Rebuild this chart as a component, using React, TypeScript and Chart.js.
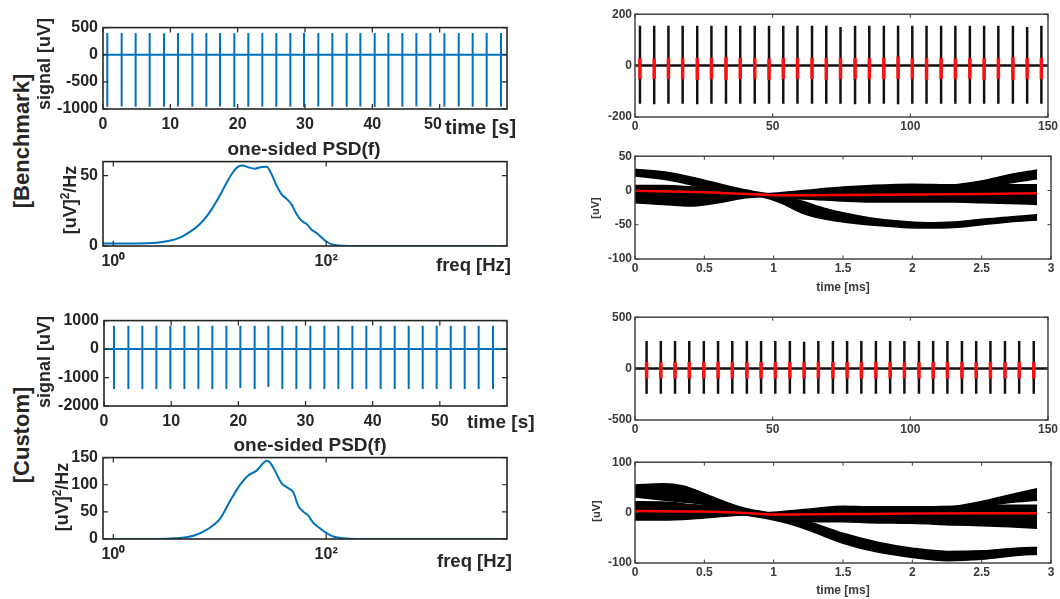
import React, { useEffect, useRef } from 'react';
import { Chart, registerables } from 'chart.js';

Chart.register(...registerables);

const FONT = '"Liberation Sans", Arial, Helvetica, sans-serif';
const MATLAB_BLUE = '#0072BD';
const AXIS_DARK = '#262626';
const AXIS_GRAY = '#3a3a3a';

// ---------------- Left column: raw signals ----------------
const signalXTicks = [0, 10, 20, 30, 40, 50];
// the "50" label of the benchmark trace sits slightly left of its tick (next to the x label)
const benchSignalXLabels: Record<number, string> = { 50: '50   ' };
const benchSignalYTicks = [-1000, -500, 0, 500];
const benchSpikeTimes = [0.64, 2.77, 4.85, 6.93, 9.06, 11.14, 13.27, 15.35, 17.38, 19.5, 21.58, 23.66, 25.74, 27.82, 29.85, 31.98, 34.06, 36.19, 38.22, 40.35, 42.38, 44.46, 46.54, 48.62, 50.7, 52.83, 54.9, 56.98, 59.11];
const benchSpikePeaks = [400, 400, 400, 400, 398, 400, 400, 400, 400, 398, 400, 400, 400, 400, 400, 400, 400, 400, 400, 400, 400, 400, 400, 400, 398, 400, 400, 400, 400];
const benchSpikeTroughs = [-960, -955, -960, -958, -960, -955, -960, -958, -955, -962, -958, -955, -960, -958, -962, -955, -958, -960, -955, -962, -958, -960, -955, -958, -960, -955, -958, -960, -955];

const customSignalYTicks = [-2000, -1000, 0, 1000];
const customSpikeTimes = [1.49, 3.63, 5.71, 7.8, 9.88, 11.97, 14.05, 16.13, 18.22, 20.3, 22.43, 24.47, 26.55, 28.64, 30.72, 32.81, 34.89, 36.98, 39.06, 41.19, 43.28, 45.36, 47.45, 49.53, 51.62, 53.7, 55.78, 57.92];
const customSpikePeaks = [820, 820, 820, 820, 820, 820, 820, 820, 820, 820, 820, 820, 820, 820, 820, 820, 820, 820, 820, 820, 820, 820, 820, 820, 820, 820, 820, 820];
const customSpikeTroughs = [-1400, -1400, -1400, -1400, -1400, -1400, -1400, -1400, -1400, -1370, -1400, -1330, -1400, -1400, -1400, -1400, -1400, -1400, -1400, -1400, -1400, -1400, -1400, -1400, -1400, -1400, -1400, -1400];

// ---------------- Left column: PSDs ----------------
const psdTickDecades = [0.1, 1, 10, 100, 1000];
const psdTickMultipliers = [1, 2, 3, 4, 5, 6, 7, 8, 9];
const psdXLabels: Record<number, string> = { 1: '10\u2070', 100: '10\u00B2' };
const benchPsdYTicks = [0, 50];
const customPsdYTicks = [0, 50, 100, 150];

const benchPsdFreq = [0.8, 1.0, 1.5, 2.06, 3.17, 4.23, 5.25, 6.52, 7.53, 8.7, 10.05, 11.6, 13.4, 14.9, 16.3, 18.5, 21.4, 24.8, 27.6, 30.7, 34.2, 38.2, 42.5, 47.4, 52.8, 58.8, 65.5, 73, 81.3, 90.6, 101, 116.7, 145, 200, 500, 1000, 5000];
const benchPsdValue = [1.8, 1.8, 1.8, 1.9, 3.4, 6, 10, 15.6, 21, 28, 36, 45, 52.8, 56.4, 57.3, 56, 55, 56.2, 56.4, 51, 43, 36.7, 33.5, 29.4, 22.5, 17.9, 15.6, 11.5, 9.2, 6, 3, 0.9, 0.2, 0.05, 0.02, 0.02, 0.02];

const customPsdFreq = [0.8, 2, 3.17, 4.23, 5.65, 7.01, 8.7, 10.05, 12.5, 15.5, 18.5, 22.2, 25.7, 27.6, 29.6, 33, 38.2, 44, 49.1, 54.7, 60.9, 67.9, 75.7, 87.5, 101, 116.7, 145, 193, 500, 5000];
const customPsdValue = [0, 0, 0.6, 1.8, 6, 13.6, 25.5, 37, 70, 99.6, 117, 126, 140, 144, 141, 126, 102.6, 93.7, 86, 61, 50.4, 43, 29.6, 19.6, 10.7, 4.7, 1.2, 0, 0, 0];

// ---------------- Right column: spike trains ----------------
const trainXTicks = [0, 50, 100, 150];
const benchTrainYTicks = [-200, 0, 200];
const benchTrainX = [1.8, 6.97, 12.14, 17.31, 22.6, 27.76, 33.05, 38.22, 43.5, 48.68, 53.85, 59.01, 64.3, 69.47, 74.64, 79.93, 85.1, 90.38, 95.55, 100.72, 105.89, 111.18, 116.35, 121.63, 126.8, 131.97, 137.26, 142.43, 147.6];
const benchTrainTop = [155, 155, 155, 155, 155, 155, 155, 155, 155, 155, 155, 155, 155, 155, 150, 155, 155, 155, 155, 155, 155, 155, 155, 155, 155, 155, 155, 150, 155];
const benchTrainBottom = [-148, -150, -148, -148, -150, -148, -148, -148, -148, -148, -148, -148, -148, -148, -148, -150, -148, -148, -150, -148, -148, -148, -148, -148, -148, -148, -148, -148, -148];
const benchRedTop = [30, 28, 30, 30, 30, 30, 33, 30, 30, 28, 30, 30, 30, 30, 30, 30, 30, 30, 35, 30, 30, 30, 28, 30, 30, 30, 33, 30, 30];
const benchRedBottom = [-52, -52, -52, -52, -55, -52, -55, -52, -52, -55, -52, -52, -52, -55, -52, -52, -52, -52, -52, -52, -55, -52, -52, -52, -55, -52, -55, -52, -52];

const customTrainYTicks = [-500, 0, 500];
const customTrainX = [4.21, 9.38, 14.54, 19.71, 25, 30.17, 35.34, 40.63, 45.79, 50.96, 56.25, 61.42, 66.59, 71.88, 77.04, 82.21, 87.5, 92.67, 97.84, 103.13, 108.29, 113.46, 118.75, 123.92, 129.09, 134.38, 139.54, 144.83];
const customTrainTop = [268, 268, 268, 268, 268, 268, 268, 268, 268, 268, 268, 262, 268, 268, 268, 268, 268, 268, 268, 268, 268, 268, 268, 268, 268, 268, 268, 268];
const customTrainBottom = [-245, -245, -245, -245, -245, -245, -245, -245, -245, -245, -245, -245, -245, -245, -245, -245, -245, -245, -245, -245, -245, -245, -245, -245, -245, -245, -245, -245];
const customRedTop = [64, 64, 64, 64, 64, 64, 64, 64, 64, 64, 64, 64, 64, 64, 64, 64, 64, 64, 64, 64, 64, 64, 64, 64, 64, 64, 64, 64];
const customRedBottom = [-96, -96, -96, -96, -96, -96, -96, -96, -96, -96, -96, -96, -96, -96, -96, -96, -96, -96, -96, -96, -96, -96, -96, -96, -96, -96, -96, -96];

// ---------------- Right column: waveform overlays ----------------
const waveXTicks = [0, 0.5, 1, 1.5, 2, 2.5, 3];
const benchWaveYTicks = [-100, -50, 0, 50];
const customWaveYTicks = [-100, 0, 100];

const benchBandAT = [0, 0.25, 0.5, 0.75, 0.9, 1.05, 1.2, 1.35, 1.5, 1.7, 1.9, 2.1, 2.3, 2.5, 2.7, 2.9];
const benchBandAUpper = [31, 26, 15, 3, -3, -8.3, -15.5, -25, -32.5, -40, -44.7, -47, -46, -42, -38.8, -35.4];
const benchBandALower = [21, 15, 4, -5, -8.5, -18, -32.5, -41, -46, -50.5, -53.4, -54.9, -54, -50, -46, -43];
const benchBandBT = [0, 0.2, 0.4, 0.6, 0.8, 0.95, 1.1, 1.3, 1.5, 1.7, 2.0, 2.3, 2.5, 2.7, 2.9];
const benchBandBUpper = [7.3, 7.3, 5.3, 1.5, -2, -4.4, -2.4, 1.5, 4.9, 7.3, 9.2, 8.3, 8.3, 8.3, 8.3];
const benchBandBLower = [-18, -20.4, -22.8, -18, -10.7, -9.2, -12, -13, -15.5, -17, -17, -17, -18, -19, -20.4];
const benchBandCT = [2.3, 2.5, 2.7, 2.9];
const benchBandCUpper = [8, 14, 23, 30];
const benchBandCLower = [-2, 4, 11, 17];
const benchMeanT = [0, 0.5, 0.9, 1.0, 1.3, 1.5, 2.0, 2.5, 2.9];
const benchMeanV = [-0.5, -2.5, -6, -7, -7, -6.5, -6, -5, -4];

const customBandAT = [0, 0.2, 0.35, 0.5, 0.65, 0.8, 0.95, 1.1, 1.25, 1.5, 1.75, 2.0, 2.25, 2.5, 2.75, 2.9];
const customBandAUpper = [55, 57.4, 52.8, 37.7, 21.3, 8.2, 0.3, -8.2, -18, -41, -58.7, -70.5, -77, -75.7, -70.5, -69];
const customBandALower = [31, 25, 21, 16, 4.9, -4.9, -11.5, -21.3, -34.4, -60.7, -78.4, -88.9, -95.4, -92.8, -85, -82.6];
const customBandBT = [0, 0.2, 0.4, 0.6, 0.8, 0.95, 1.1, 1.3, 1.5, 1.7, 2.0, 2.3, 2.5, 2.7, 2.9];
const customBandBUpper = [21.3, 21, 16, 11.5, 6.2, 0.3, 3, 8.2, 12.8, 11.5, 11.5, 12.8, 14.8, 14.8, 14.8];
const customBandBLower = [-14.8, -14.8, -12.8, -8.2, -4.9, -10, -16.7, -18, -18, -20, -21.3, -24.6, -26, -28, -31];
const customBandCT = [2.3, 2.5, 2.7, 2.9];
const customBandCUpper = [12, 22, 35, 47.5];
const customBandCLower = [4, 12, 20, 24.6];
const customMeanT = [0, 0.5, 0.8, 1.0, 1.5, 2.0, 2.5, 2.9];
const customMeanV = [3, 2, -1, -4, -3, -2, -1.5, -1.5];

// ---------------- helpers ----------------
type Pt = { x: number; y: number | null };

function spikeTrace(times: number[], tops: number[], bottoms: number[], xmin: number, xmax: number): Pt[] {
  const pts: Pt[] = [{ x: xmin, y: 0 }];
  times.forEach((t, i) => {
    pts.push({ x: t, y: 0 }, { x: t, y: tops[i] }, { x: t, y: bottoms[i] }, { x: t, y: 0 });
  });
  pts.push({ x: xmax, y: 0 });
  return pts;
}

function segmentTrace(times: number[], tops: number[], bottoms: number[]): Pt[] {
  const pts: Pt[] = [];
  times.forEach((t, i) => {
    pts.push({ x: t, y: tops[i] }, { x: t, y: bottoms[i] }, { x: t, y: null });
  });
  return pts;
}

function zipXY(xs: number[], ys: number[]): Pt[] {
  return xs.map((x, i) => ({ x, y: ys[i] }));
}

const psdTickValues = psdTickDecades
  .flatMap((d) => psdTickMultipliers.map((m) => +(d * m).toPrecision(6)))
  .filter((v) => v >= 0.8 && v <= 5000);

const boxPlugin = {
  id: 'box',
  afterDraw(chart: any, _args: any, opts: any) {
    const { ctx, chartArea: a } = chart;
    const xs = chart.scales.x;
    const ys = chart.scales.y;
    ctx.save();
    ctx.strokeStyle = opts.color;
    ctx.lineWidth = opts.tickWidth;
    ctx.beginPath();
    for (const tk of xs.ticks) {
      const px = xs.getPixelForValue(tk.value);
      let len = opts.tickLen;
      if (opts.logX) {
        const lg = Math.log10(tk.value);
        if (Math.abs(lg - Math.round(lg)) > 1e-6) len = opts.minorLen;
      }
      ctx.moveTo(px, a.bottom);
      ctx.lineTo(px, a.bottom - len);
      ctx.moveTo(px, a.top);
      ctx.lineTo(px, a.top + len);
    }
    for (const tk of ys.ticks) {
      const py = ys.getPixelForValue(tk.value);
      ctx.moveTo(a.left, py);
      ctx.lineTo(a.left + opts.tickLen, py);
      ctx.moveTo(a.right, py);
      ctx.lineTo(a.right - opts.tickLen, py);
    }
    ctx.stroke();
    ctx.lineWidth = opts.lineWidth;
    ctx.strokeRect(a.left, a.top, a.right - a.left, a.bottom - a.top);
    ctx.restore();
  },
};

type PanelProps = {
  rect: [number, number, number, number];
  yW: number;
  xH: number;
  padT: number;
  padR: number;
  datasets: any[];
  xScale: any;
  yScale: any;
  box: any;
};

function ChartPanel({ rect, yW, xH, padT, padR, datasets, xScale, yScale, box }: PanelProps) {
  const ref = useRef<HTMLCanvasElement>(null);
  const [l, t, r, b] = rect;
  const width = r - l + yW + padR;
  const height = b - t + padT + xH;
  useEffect(() => {
    const chart = new Chart(ref.current as HTMLCanvasElement, {
      type: 'line',
      data: { datasets },
      options: {
        animation: false,
        responsive: false,
        devicePixelRatio: 1,
        events: [],
        layout: { padding: { top: padT, right: padR, left: 0, bottom: 0 } },
        elements: { point: { radius: 0 } },
        plugins: { legend: { display: false }, tooltip: { enabled: false }, box } as any,
        scales: {
          x: { ...xScale, afterFit: (s: any) => { s.height = xH; } },
          y: { ...yScale, afterFit: (s: any) => { s.width = yW; } },
        },
      } as any,
      plugins: [boxPlugin as any],
    });
    return () => chart.destroy();
  }, []);
  return (
    <canvas
      ref={ref}
      width={width}
      height={height}
      style={{ position: 'absolute', left: l - yW, top: t - padT, width, height }}
    />
  );
}

function linScale(min: number, max: number, ticks: number[], font: any, color: string, padding: number, labels?: Record<number, string>) {
  return {
    type: 'linear',
    min,
    max,
    grid: { display: false, drawTicks: false },
    border: { display: false },
    afterBuildTicks: (s: any) => { s.ticks = ticks.map((v) => ({ value: v })); },
    ticks: {
      font, color, padding, autoSkip: false, maxRotation: 0, minRotation: 0,
      callback: (v: any) => (labels && labels[v] !== undefined ? labels[v] : String(v)),
    },
  };
}

const leftFont = { family: FONT, size: 16, weight: 'bold' };
const rightFont = { family: FONT, size: 12, weight: 'bold' };
const leftBox = { color: AXIS_DARK, lineWidth: 1.6, tickWidth: 1.2, tickLen: 5, minorLen: 3 };
const rightBox = { color: AXIS_GRAY, lineWidth: 1.4, tickWidth: 1, tickLen: 3.5, minorLen: 2 };

function psdXScale() {
  return {
    type: 'logarithmic',
    min: 0.8,
    max: 5000,
    grid: { display: false, drawTicks: false },
    border: { display: false },
    afterBuildTicks: (s: any) => { s.ticks = psdTickValues.map((v) => ({ value: v })); },
    ticks: {
      font: leftFont, color: AXIS_DARK, padding: 6, autoSkip: false, maxRotation: 0, minRotation: 0,
      callback: (v: any) => (psdXLabels[v as number] !== undefined ? psdXLabels[v as number] : null),
    },
  };
}

function bandDatasets(startIndex: number, t: number[], upper: number[], lower: number[]) {
  return [
    { data: zipXY(t, upper), borderColor: '#000', borderWidth: 1.5, fill: false, cubicInterpolationMode: 'monotone', order: 1 },
    { data: zipXY(t, lower), borderColor: '#000', borderWidth: 1.5, fill: startIndex, backgroundColor: '#000', cubicInterpolationMode: 'monotone', order: 1 },
  ];
}

function Txt(props: { x: number; y: number; size: number; rotate?: boolean; align?: 'left' | 'center'; color?: string; children: any }) {
  const { x, y, size, rotate, align = 'center', color = AXIS_DARK, children } = props;
  const tx = align === 'center' ? '-50%' : '0';
  return (
    <div
      style={{
        position: 'absolute', left: x, top: y,
        transform: `translate(${tx}, -50%)${rotate ? ' rotate(-90deg)' : ''}`,
        fontFamily: FONT, fontWeight: 700, fontSize: size, lineHeight: 1, color, whiteSpace: 'nowrap',
      }}
    >
      {children}
    </div>
  );
}

export default function App() {
  const sig1 = [{ data: spikeTrace(benchSpikeTimes, benchSpikePeaks, benchSpikeTroughs, 0, 60), borderColor: MATLAB_BLUE, borderWidth: 2 }];
  const sig2 = [{ data: spikeTrace(customSpikeTimes, customSpikePeaks, customSpikeTroughs, 0, 60), borderColor: MATLAB_BLUE, borderWidth: 2 }];
  const psd1 = [{ data: zipXY(benchPsdFreq, benchPsdValue), borderColor: MATLAB_BLUE, borderWidth: 2, cubicInterpolationMode: 'monotone' }];
  const psd2 = [{ data: zipXY(customPsdFreq, customPsdValue), borderColor: MATLAB_BLUE, borderWidth: 2, cubicInterpolationMode: 'monotone' }];

  const train1 = [
    { data: segmentTrace(benchTrainX, benchRedTop, benchRedBottom), borderColor: '#FF1010', borderWidth: 3.5, order: 0 },
    { data: spikeTrace(benchTrainX, benchTrainTop, benchTrainBottom, 0, 150), borderColor: '#111', borderWidth: 2.5, order: 1 },
  ];
  const train2 = [
    { data: segmentTrace(customTrainX, customRedTop, customRedBottom), borderColor: '#FF1010', borderWidth: 3.5, order: 0 },
    { data: spikeTrace(customTrainX, customTrainTop, customTrainBottom, 0, 150), borderColor: '#111', borderWidth: 2.5, order: 1 },
  ];

  const wave1 = [
    { data: zipXY(benchMeanT, benchMeanV), borderColor: '#FF0000', borderWidth: 2.5, cubicInterpolationMode: 'monotone', order: 0 },
    ...bandDatasets(1, benchBandAT, benchBandAUpper, benchBandALower),
    ...bandDatasets(3, benchBandBT, benchBandBUpper, benchBandBLower),
    ...bandDatasets(5, benchBandCT, benchBandCUpper, benchBandCLower),
  ];
  const wave2 = [
    { data: zipXY(customMeanT, customMeanV), borderColor: '#FF0000', borderWidth: 2.5, cubicInterpolationMode: 'monotone', order: 0 },
    ...bandDatasets(1, customBandAT, customBandAUpper, customBandALower),
    ...bandDatasets(3, customBandBT, customBandBUpper, customBandBLower),
    ...bandDatasets(5, customBandCT, customBandCUpper, customBandCLower),
  ];

  return (
    <div style={{ position: 'fixed', left: 0, top: 0, width: 1060, height: 599, background: '#fff', overflow: 'hidden' }}>
      {/* Left column */}
      <ChartPanel rect={[103, 25, 507, 109]} yW={60} xH={30} padT={12} padR={12} datasets={sig1}
        xScale={linScale(0, 60, signalXTicks, leftFont, AXIS_DARK, 6, benchSignalXLabels)}
        yScale={linScale(-1000, 500, benchSignalYTicks, leftFont, AXIS_DARK, 5)} box={leftBox} />
      <ChartPanel rect={[103, 159, 507, 246]} yW={60} xH={30} padT={12} padR={12} datasets={psd1}
        xScale={psdXScale()}
        yScale={linScale(0, 60, benchPsdYTicks, leftFont, AXIS_DARK, 5)} box={{ ...leftBox, logX: true }} />
      <ChartPanel rect={[104, 318, 507, 406]} yW={60} xH={30} padT={12} padR={12} datasets={sig2}
        xScale={linScale(0, 60, signalXTicks, leftFont, AXIS_DARK, 6)}
        yScale={linScale(-2000, 1000, customSignalYTicks, leftFont, AXIS_DARK, 5)} box={leftBox} />
      <ChartPanel rect={[103, 455, 507, 539]} yW={60} xH={30} padT={12} padR={12} datasets={psd2}
        xScale={psdXScale()}
        yScale={linScale(0, 150, customPsdYTicks, leftFont, AXIS_DARK, 5)} box={{ ...leftBox, logX: true }} />

      {/* Right column */}
      <ChartPanel rect={[635, 14, 1051, 117]} yW={40} xH={22} padT={10} padR={9} datasets={train1}
        xScale={linScale(0, 150, trainXTicks, rightFont, AXIS_GRAY, 2)}
        yScale={linScale(-200, 200, benchTrainYTicks, rightFont, AXIS_GRAY, 3)} box={rightBox} />
      <ChartPanel rect={[635, 156, 1051, 259]} yW={40} xH={22} padT={10} padR={9} datasets={wave1}
        xScale={linScale(0, 3, waveXTicks, rightFont, AXIS_GRAY, 2)}
        yScale={linScale(-100, 50, benchWaveYTicks, rightFont, AXIS_GRAY, 3)} box={rightBox} />
      <ChartPanel rect={[635, 317, 1051, 420]} yW={40} xH={22} padT={10} padR={9} datasets={train2}
        xScale={linScale(0, 150, trainXTicks, rightFont, AXIS_GRAY, 2)}
        yScale={linScale(-500, 500, customTrainYTicks, rightFont, AXIS_GRAY, 3)} box={rightBox} />
      <ChartPanel rect={[635, 462, 1051, 563]} yW={40} xH={22} padT={10} padR={9} datasets={wave2}
        xScale={linScale(0, 3, waveXTicks, rightFont, AXIS_GRAY, 2)}
        yScale={linScale(-100, 100, customWaveYTicks, rightFont, AXIS_GRAY, 3)} box={rightBox} />

      {/* Text labels */}
      <Txt x={22} y={141} size={22} rotate>[Benchmark]</Txt>
      <Txt x={22} y={435} size={22} rotate>[Custom]</Txt>
      <Txt x={44} y={64} size={18} rotate>signal [uV]</Txt>
      <Txt x={44} y={362} size={18} rotate>signal [uV]</Txt>
      <Txt x={69} y={200} size={18} rotate>[uV]<sup style={{ fontSize: 12 }}>2</sup>/Hz</Txt>
      <Txt x={61} y={497} size={18} rotate>[uV]<sup style={{ fontSize: 12 }}>2</sup>/Hz</Txt>
      <Txt x={304} y={148} size={19}>one-sided PSD(f)</Txt>
      <Txt x={310} y={444} size={19}>one-sided PSD(f)</Txt>
      <Txt x={445} y={127} size={20} align="left">time [s]</Txt>
      <Txt x={467} y={421} size={19} align="left">time [s]</Txt>
      <Txt x={436} y={265} size={18.5} align="left">freq [Hz]</Txt>
      <Txt x={437} y={561} size={18.5} align="left">freq [Hz]</Txt>
      <Txt x={843} y={287} size={12} color={AXIS_GRAY}>time [ms]</Txt>
      <Txt x={843} y={590} size={12} color={AXIS_GRAY}>time [ms]</Txt>
      <Txt x={595} y={208} size={11} rotate color={AXIS_GRAY}>[uV]</Txt>
      <Txt x={596} y={511} size={11} rotate color={AXIS_GRAY}>[uV]</Txt>
    </div>
  );
}
